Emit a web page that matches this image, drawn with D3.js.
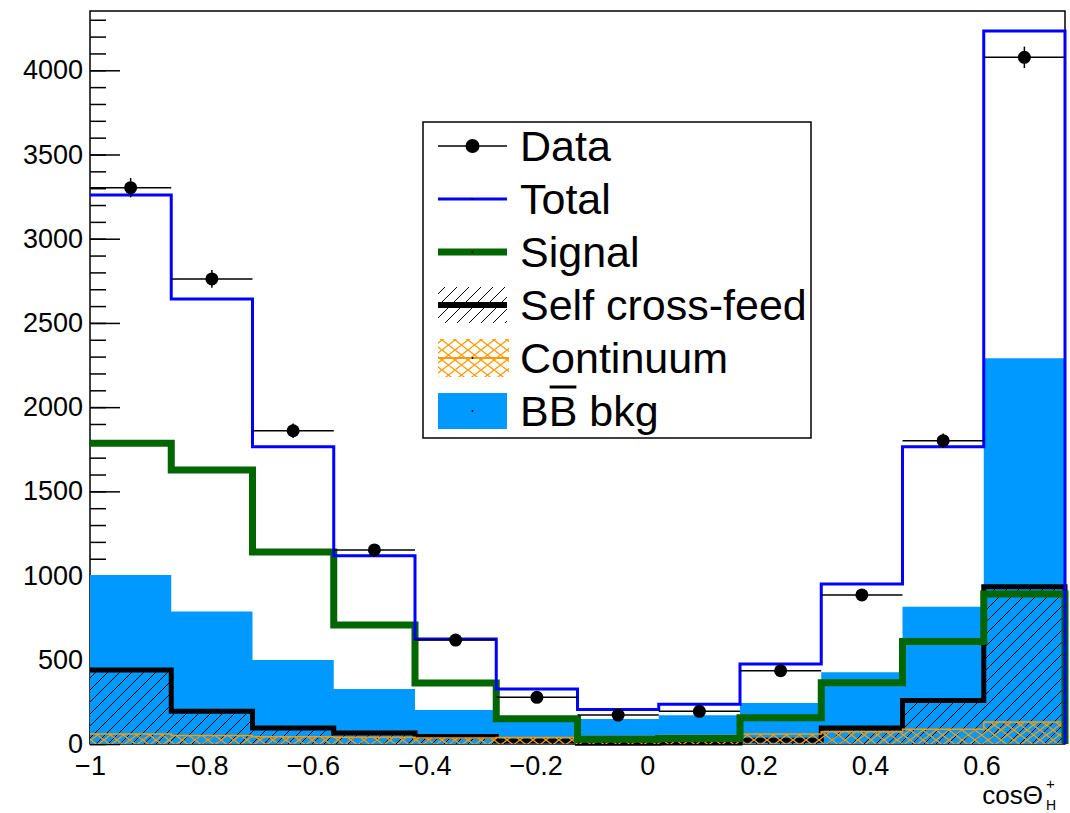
<!DOCTYPE html>
<html><head><meta charset="utf-8">
<script src="https://cdn.jsdelivr.net/npm/d3@7"></script>
<style>
body{margin:0;background:#fff}
svg{display:block}
text{font-family:"Liberation Sans",Arial,Helvetica,sans-serif;fill:#000}
</style>
</head><body>
<svg id="chart" width="1070" height="813"></svg>
<script>
// Histogram binning of cos(theta_H+)
const binLow = -1, binHigh = 0.75, nBins = 12;

// Per-bin contents
const dataCounts = [3303, 2761, 1860, 1152, 617, 277, 172, 194, 435, 885, 1801, 4077];
const totalFit   = [3259, 2642, 1765, 1118, 623, 327, 205, 236, 475, 950, 1765, 4233];
const signal     = [1785, 1627, 1140, 706, 362, 150, 28, 33, 156, 364, 608, 890];
const bbBkg      = [1003, 786, 499, 327, 202, 140, 148, 170, 243, 426, 815, 2290];
const crossFeed  = [439, 195, 95, 66, 45, 18, 5, 6, 22, 95, 258, 934];
const continuum  = [60, 50, 43, 40, 36, 38, 45, 50, 60, 73, 87, 130];

// Axis ticks
const xTicks = [-1, -0.8, -0.6, -0.4, -0.2, 0, 0.2, 0.4, 0.6];
const yTicks = [0, 500, 1000, 1500, 2000, 2500, 3000, 3500, 4000];
const yMax = 4352;

const legendLabels = ["Data", "Total", "Signal", "Self cross-feed", "Continuum", "BB bkg"];

const svg = d3.select("#chart");
const x = d3.scaleLinear().domain([binLow, binHigh]).range([90, 1065]);
const y = d3.scaleLinear().domain([0, yMax]).range([744, 11]);
const binW = (binHigh - binLow) / nBins;
const edge = i => binLow + i * binW;

const defs = svg.append("defs");
const hatch = defs.append("pattern").attr("id", "hatchXF")
  .attr("patternUnits", "userSpaceOnUse").attr("width", 12).attr("height", 12);
hatch.append("path").attr("d", "M-3,3 L3,-3 M0,12 L12,0 M9,15 L15,9")
  .attr("stroke", "#000").attr("stroke-width", 1).attr("fill", "none");
const cross = defs.append("pattern").attr("id", "crossCont")
  .attr("patternUnits", "userSpaceOnUse").attr("width", 13).attr("height", 10);
cross.append("path").attr("d", "M0,0 L13,10 M0,10 L13,0")
  .attr("stroke", "#ff9900").attr("stroke-width", 1.3).attr("fill", "none");

// Axes (ticks sit underneath the filled histograms)
const gy = svg.append("g").attr("transform", `translate(${x(binLow)},0)`);
gy.call(d3.axisLeft(y).tickValues(d3.range(0, yMax, 100)).tickSize(-16).tickFormat(""));
gy.call(g => g.select(".domain").remove());
const gy2 = svg.append("g").attr("transform", `translate(${x(binLow)},0)`);
gy2.call(d3.axisLeft(y).tickValues(yTicks).tickSizeInner(-30).tickSizeOuter(0).tickPadding(7)
  .tickFormat(d3.format("d")));
gy2.select(".domain").remove();
gy2.selectAll("text").attr("font-size", 27).attr("font-family", null);

const gx = svg.append("g").attr("transform", `translate(0,${y(0)})`);
gx.call(d3.axisBottom(x).tickValues(d3.range(0, 36).map(i => binLow + i * 0.05)).tickSize(-11).tickFormat(""));
gx.select(".domain").remove();
const gx2 = svg.append("g").attr("transform", `translate(0,${y(0)})`);
gx2.call(d3.axisBottom(x).tickValues(xTicks).tickSizeInner(-22).tickSizeOuter(0).tickPadding(12)
  .tickFormat(d3.format("~g")));
gx2.select(".domain").remove();
gx2.selectAll("text").attr("font-size", 27).attr("font-family", null);
svg.selectAll(".tick line").attr("stroke", "#000").attr("stroke-width", 1.5);

// Frame
svg.append("rect").attr("x", x(binLow)).attr("y", y(yMax))
  .attr("width", x(binHigh) - x(binLow)).attr("height", y(0) - y(yMax))
  .attr("fill", "none").attr("stroke", "#000").attr("stroke-width", 1.5);

// Step outline of a histogram (closed variant for fills)
function stepPath(vals, closed) {
  let p = closed ? `M${x(edge(0))},${y(0)}V${y(vals[0])}` : `M${x(edge(0))},${y(vals[0])}`;
  vals.forEach((v, i) => { p += `V${y(v)}H${x(edge(i + 1))}`; });
  return p + `V${y(0)}` + (closed ? "Z" : "");
}

const plot = svg.append("g");
plot.append("path").attr("d", stepPath(bbBkg, true)).attr("fill", "#0099ff").attr("stroke", "none");
plot.append("path").attr("d", stepPath(crossFeed, true)).attr("fill", "url(#hatchXF)").attr("stroke", "none");
plot.append("path").attr("d", stepPath(crossFeed)).attr("fill", "none").attr("stroke", "#000").attr("stroke-width", 5);
plot.append("path").attr("d", stepPath(continuum, true)).attr("fill", "url(#crossCont)").attr("stroke", "none");
plot.append("path").attr("d", stepPath(continuum)).attr("fill", "none").attr("stroke", "#ff9900").attr("stroke-width", 1.5);
plot.append("path").attr("d", stepPath(signal)).attr("fill", "none").attr("stroke", "#006600").attr("stroke-width", 7);
plot.append("path").attr("d", stepPath(totalFit)).attr("fill", "none").attr("stroke", "#0000ff").attr("stroke-width", 3);

// Data points with errors
const pts = plot.append("g").selectAll("g").data(dataCounts).join("g");
pts.append("line").attr("x1", (d, i) => x(edge(i))).attr("x2", (d, i) => x(edge(i + 1)))
  .attr("y1", d => y(d)).attr("y2", d => y(d)).attr("stroke", "#000").attr("stroke-width", 1.5);
pts.append("line").attr("x1", (d, i) => x(edge(i) + binW / 2)).attr("x2", (d, i) => x(edge(i) + binW / 2))
  .attr("y1", d => y(d + Math.sqrt(d))).attr("y2", d => y(d - Math.sqrt(d))).attr("stroke", "#000").attr("stroke-width", 1.5);
pts.append("circle").attr("cx", (d, i) => x(edge(i) + binW / 2)).attr("cy", d => y(d)).attr("r", 6.5).attr("fill", "#000");

// Axis title
svg.append("text").attr("x", 1043).attr("y", 804).attr("text-anchor", "end").attr("font-size", 26).text("cosΘ");
svg.append("text").attr("x", 1046).attr("y", 789).attr("font-size", 15).text("+");
svg.append("text").attr("x", 1046).attr("y", 810).attr("font-size", 14).text("H");

// Legend
const leg = svg.append("g");
leg.append("rect").attr("x", 423).attr("y", 122).attr("width", 388).attr("height", 316)
  .attr("fill", "#fff").attr("stroke", "#000").attr("stroke-width", 1.5);
const rowY = i => 146 + i * 53;
const sx0 = 438, sx1 = 507, sxc = (sx0 + sx1) / 2;
// Data
leg.append("line").attr("x1", sx0).attr("x2", sx1).attr("y1", rowY(0)).attr("y2", rowY(0)).attr("stroke", "#000").attr("stroke-width", 1.5);
leg.append("circle").attr("cx", sxc).attr("cy", rowY(0)).attr("r", 7).attr("fill", "#000");
// Total
leg.append("line").attr("x1", sx0).attr("x2", sx1).attr("y1", rowY(1)).attr("y2", rowY(1)).attr("stroke", "#0000ff").attr("stroke-width", 3);
// Signal
leg.append("line").attr("x1", sx0).attr("x2", sx1).attr("y1", rowY(2)).attr("y2", rowY(2)).attr("stroke", "#006600").attr("stroke-width", 7);
// Self cross-feed
leg.append("rect").attr("x", sx0).attr("y", rowY(3) - 18).attr("width", sx1 - sx0).attr("height", 36).attr("fill", "url(#hatchXF)");
leg.append("line").attr("x1", sx0).attr("x2", sx1).attr("y1", rowY(3)).attr("y2", rowY(3)).attr("stroke", "#000").attr("stroke-width", 6);
// Continuum
leg.append("rect").attr("x", sx0).attr("y", rowY(4) - 19).attr("width", sx1 - sx0 + 2).attr("height", 38).attr("fill", "url(#crossCont)");
leg.append("line").attr("x1", sx0).attr("x2", sx1 + 2).attr("y1", rowY(4)).attr("y2", rowY(4)).attr("stroke", "#ff9900").attr("stroke-width", 2);
// BB bkg
leg.append("rect").attr("x", sx0).attr("y", rowY(5) - 18).attr("width", sx1 - sx0).attr("height", 36).attr("fill", "#0099ff");
[1, 2, 3, 4, 5].forEach(i => leg.append("circle").attr("cx", sxc).attr("cy", rowY(i)).attr("r", 1).attr("fill", "#000"));

legendLabels.forEach((lab, i) => {
  const t = leg.append("text").attr("x", 520).attr("y", rowY(i) + 15).attr("font-size", 43).text(lab);
  if (i === 5) {
    const n = t.node();
    const s = n.getStartPositionOfChar(1).x;
    const w = n.getSubStringLength(1, 1);
    leg.append("line").attr("x1", s + 1).attr("x2", s + w - 1)
      .attr("y1", rowY(i) - 24).attr("y2", rowY(i) - 24).attr("stroke", "#000").attr("stroke-width", 3);
  }
});
</script>
</body></html>
